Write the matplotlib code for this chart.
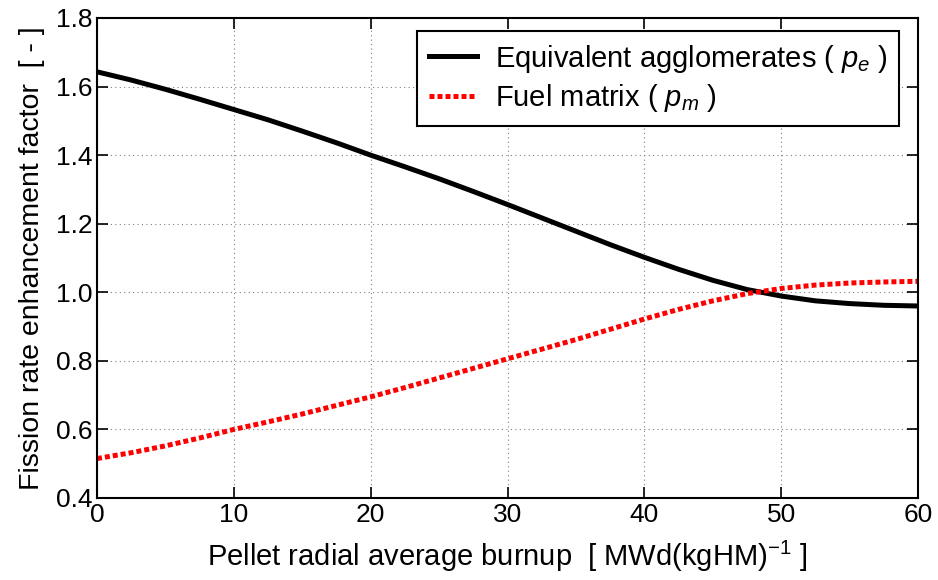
import matplotlib

matplotlib.use("Agg")
import matplotlib.pyplot as plt

plt.rcParams["font.family"] = ["Liberation Sans", "DejaVu Sans"]
plt.rcParams["mathtext.fontset"] = "custom"
plt.rcParams["mathtext.rm"] = "Liberation Sans"
plt.rcParams["mathtext.it"] = "Liberation Sans:italic"

burnup = [0, 2.5, 5, 7.5, 10, 12.5, 15, 17.5, 20, 22.5, 25, 27.5, 30, 32.5, 35, 37.5, 40,
          42.5, 45, 47.5, 50, 52.5, 55, 57.5, 60]
agglomerates = [1.643, 1.619, 1.592, 1.563, 1.533, 1.503, 1.470, 1.436, 1.400, 1.366, 1.331,
                1.294, 1.256, 1.217, 1.178, 1.139, 1.102, 1.067, 1.035, 1.008, 0.989, 0.975,
                0.967, 0.962, 0.960]
matrix = [0.515, 0.532, 0.552, 0.575, 0.600, 0.622, 0.645, 0.670, 0.695, 0.722, 0.750, 0.778,
          0.806, 0.834, 0.862, 0.892, 0.922, 0.950, 0.975, 0.996, 1.011, 1.021, 1.027, 1.030,
          1.032]

fig = plt.figure(figsize=(9.38, 5.8), dpi=100)
ax = fig.add_axes([0.1034, 0.1414, 0.8753, 0.8276])

ax.plot(burnup, agglomerates, color="black", linewidth=3.6,
        label="Equivalent agglomerates ( $p_e$ )")
ax.plot(burnup, matrix, color="red", linewidth=3.6, linestyle=(0, (1, 0.6)),
        label="Fuel matrix ( $p_m$ )")

ax.set_xlim(0, 60)
ax.set_ylim(0.4, 1.8)
ax.set_xticks(range(0, 61, 10))
ax.set_yticks([0.4, 0.6, 0.8, 1.0, 1.2, 1.4, 1.6, 1.8])
ax.set_yticklabels(["0.4", "0.6", "0.8", "1.0", "1.2", "1.4", "1.6", "1.8"])
ax.tick_params(direction="in", labelsize=19, length=8, width=1.2, top=True, right=True)
ax.grid(True, linestyle=(0, (1, 3)), color="gray", linewidth=0.8)
for spine in ax.spines.values():
    spine.set_linewidth(1.5)

ax.set_xlabel("Pellet radial average burnup  [ MWd(kgHM)$^{-1}$ ]", fontsize=21)
ax.xaxis.set_label_coords(0.5, -0.085)
ax.set_ylabel("Fission rate enhancement factor  [ - ]", fontsize=20.5)
ax.yaxis.set_label_coords(-0.063, 0.5)

leg = ax.legend(loc="upper right", bbox_to_anchor=(0.977, 0.973), borderaxespad=0,
                fontsize=21, fancybox=False, framealpha=1, edgecolor="black",
                handlelength=1.65, handletextpad=0.6, borderpad=0.4, labelspacing=0.25)
leg.get_frame().set_linewidth(1.5)

fig.savefig("out.png", dpi=100)
